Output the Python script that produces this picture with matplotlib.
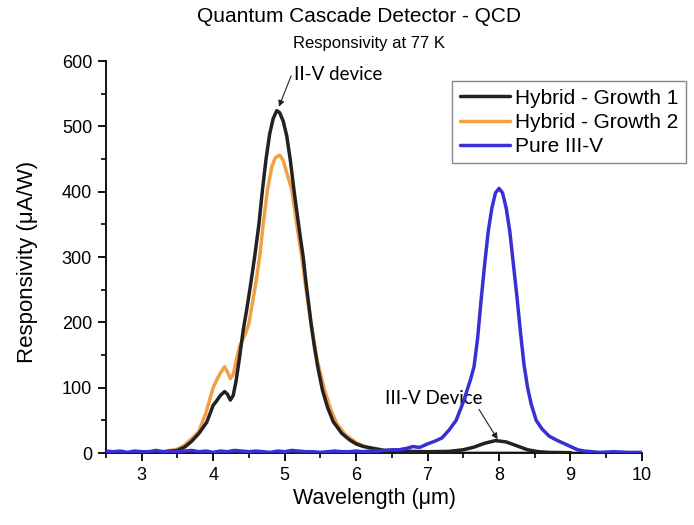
import matplotlib
matplotlib.use("Agg")
import matplotlib.pyplot as plt
from matplotlib.ticker import MultipleLocator

# ------------------------------
# data (wavelength in um, responsivity in uA/W)
# ------------------------------
black_wl = [2.5, 3.0, 3.2, 3.35, 3.5, 3.6, 3.7, 3.8, 3.91, 4.0, 4.05, 4.1, 4.16,
            4.2, 4.24, 4.28, 4.32, 4.37, 4.42, 4.47, 4.52, 4.58, 4.64, 4.69,
            4.74, 4.79, 4.84, 4.89, 4.93, 4.98, 5.03, 5.08, 5.13, 5.18, 5.22,
            5.26, 5.3, 5.34, 5.37, 5.42, 5.47, 5.53, 5.6, 5.68, 5.8, 5.91, 6.0,
            6.1, 6.2, 6.3, 6.4, 6.6, 7.0, 7.3, 7.5, 7.65, 7.8, 7.95, 8.1, 8.25,
            8.4, 8.55, 8.7, 9.0]
black_resp = [0, 0, 0.5, 2, 4, 9, 18, 30, 47, 73, 80, 88, 94,
              90, 81, 88, 110, 147, 188, 220, 255, 300, 350, 403,
              450, 488, 512, 524, 521, 508, 485, 448, 403, 362, 330,
              300, 260, 225, 198, 160, 128, 96, 70, 48, 30, 20, 14,
              10, 8, 6, 4, 3, 2, 2.5, 5, 9, 15, 19, 17, 11,
              5, 2, 1, 0.5]

orange_wl = [2.5, 3.0, 3.2, 3.35, 3.5, 3.6, 3.7, 3.8, 3.9, 4.0, 4.05, 4.1, 4.16,
             4.2, 4.24, 4.28, 4.33, 4.37, 4.42, 4.46, 4.5, 4.55, 4.6, 4.65,
             4.7, 4.76, 4.82, 4.87, 4.93, 4.98, 5.04, 5.1, 5.17, 5.24, 5.3,
             5.37, 5.46, 5.56, 5.65, 5.73, 5.85, 6.0, 6.1, 6.2, 6.3, 6.4, 6.6,
             7.0, 8.0, 9.2]
orange_resp = [0, 0, 0.5, 3, 6, 12, 22, 33, 62, 100, 112, 122, 132,
               124, 114, 120, 145, 163, 175, 185, 198, 230, 262, 300,
               350, 403, 438, 452, 456, 448, 425, 403, 350, 300, 250,
               198, 140, 96, 65, 45, 28, 16, 11, 7, 5, 3, 1.5,
               0.5, 0.5, 0.5]

blue_wl = [2.5, 2.6, 2.7, 2.8, 2.9, 3.0, 3.1, 3.2, 3.3, 3.4, 3.5, 3.6, 3.7,
           3.8, 3.9, 4.0, 4.1, 4.2, 4.3, 4.4, 4.5, 4.6, 4.7, 4.8, 4.9, 5.0,
           5.1, 5.2, 5.3, 5.4, 5.5, 5.6, 5.7, 5.8, 5.9, 6.0, 6.1, 6.2, 6.3,
           6.4, 6.5, 6.6, 6.7, 6.8, 6.85, 6.9, 7.0, 7.1, 7.2, 7.3, 7.4, 7.5,
           7.6, 7.65, 7.7, 7.75, 7.8, 7.85, 7.9, 7.95, 8.0, 8.05, 8.1, 8.15,
           8.2, 8.25, 8.3, 8.35, 8.4, 8.45, 8.52, 8.6, 8.7, 8.8, 8.9, 9.0,
           9.1, 9.2, 9.4, 9.6, 9.8, 10.0]
blue_resp = [3, 2, 3, 1, 3, 2, 2, 4, 2, 3, 2, 3, 4,
             2, 3, 1, 3, 2, 4, 3, 2, 3, 2, 1, 3, 2,
             4, 3, 2, 2, 1, 2, 3, 2, 2, 3, 2, 3, 3,
             4, 5, 5, 7, 10, 9, 9, 14, 18, 23, 35, 50, 78,
             112, 132, 175, 235, 290, 340, 375, 398, 405, 398, 375, 340,
             290, 240, 185, 135, 100, 75, 50, 37, 26, 20, 15, 10,
             5, 3, 1, 2, 1, 1]

series_labels = ["Hybrid - Growth 1", "Hybrid - Growth 2", "Pure III-V"]
x_ticks = [3, 4, 5, 6, 7, 8, 9, 10]
y_ticks = [0, 100, 200, 300, 400, 500, 600]

plt.rcParams["font.family"] = ["Liberation Sans", "DejaVu Sans"]

fig = plt.figure(figsize=(6.94, 5.25), dpi=100)
ax = fig.add_axes([0.1527, 0.1371, 0.7723, 0.7467])

line_kw = dict(lw=2.5, solid_joinstyle="round", solid_capstyle="round")
ax.plot(orange_wl, orange_resp, color="#f2a044", zorder=2,
        label=series_labels[1], **line_kw)
ax.plot(black_wl, black_resp, color="#222222", zorder=3,
        label=series_labels[0], **line_kw)
ax.plot(blue_wl, blue_resp, color="#3a2fd4", zorder=4,
        label=series_labels[2], **line_kw)

ax.set_xlim(2.5, 10)
ax.set_ylim(0, 600)
ax.set_xticks(x_ticks)
ax.set_yticks(y_ticks)
ax.xaxis.set_minor_locator(MultipleLocator(0.5))
ax.yaxis.set_minor_locator(MultipleLocator(50))
ax.tick_params(which="major", direction="out", length=6, width=1.3,
               labelsize=13, pad=4)
ax.tick_params(which="minor", direction="out", length=3.5, width=1.2)
for side in ["top", "right"]:
    ax.spines[side].set_visible(False)
for side in ["left", "bottom"]:
    ax.spines[side].set_linewidth(1.3)

fig.text(0.039, 0.501, "Responsivity (\u03bcA/W)", rotation=90,
         ha="center", va="center", fontsize=16)
fig.text(0.54, 0.05, "Wavelength (\u03bcm)", ha="center", va="center",
         fontsize=15.5)
fig.text(0.517, 0.968, "Quantum Cascade Detector - QCD", ha="center",
         va="center", fontsize=15)
fig.text(0.532, 0.917, "Responsivity at 77 K", ha="center", va="center",
         fontsize=12)

# annotations
ax.annotate("II-V device", xy=(4.92, 530), xytext=(5.13, 579),
            fontsize=13.5, family="Lato", va="center", ha="left",
            arrowprops=dict(arrowstyle="-|>", color="#222222", lw=0.8,
                            shrinkA=0, shrinkB=0, mutation_scale=9,
                            relpos=(0.0, 0.85)))
ax.annotate("III-V Device", xy=(7.98, 21), xytext=(6.4, 84),
            fontsize=13.5, family="Lato", va="center", ha="left",
            arrowprops=dict(arrowstyle="-|>", color="#222222", lw=0.8,
                            shrinkA=0, shrinkB=0, mutation_scale=9,
                            relpos=(0.95, 0.0)))

handles, labels = ax.get_legend_handles_labels()
order = [1, 0, 2]
leg = ax.legend([handles[i] for i in order], [labels[i] for i in order],
                loc="upper left", bbox_to_anchor=(0.652, 0.845),
                bbox_transform=fig.transFigure, fontsize=15,
                handlelength=2.4, handletextpad=0.25, borderpad=0.35,
                labelspacing=0.25, fancybox=False, framealpha=1,
                borderaxespad=0)
leg.get_frame().set_edgecolor("#888888")
leg.get_frame().set_linewidth(1.0)
for h in leg.get_lines():
    h.set_linewidth(2.5)

fig.savefig("out.png", dpi=100)
